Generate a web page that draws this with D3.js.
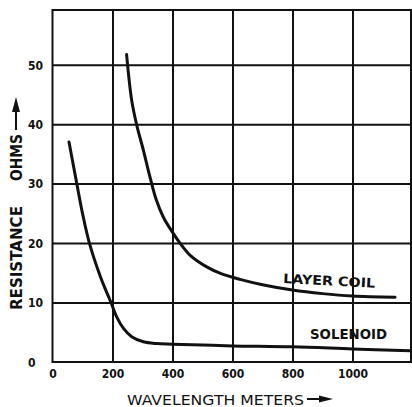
<!DOCTYPE html>
<html>
<head>
<meta charset="utf-8">
<script src="https://cdn.jsdelivr.net/npm/d3@7/dist/d3.min.js"></script>
<style>
  html, body { margin: 0; padding: 0; background: #fff; }
  svg { display: block; }
</style>
</head>
<body>
<svg id="chart" width="412" height="407"></svg>
<script>
// ---- data ----
const xTicks = [0, 200, 400, 600, 800, 1000];
const yTicks = [0, 10, 20, 30, 40, 50];

const solenoidX = [55, 81, 100, 123, 160, 180, 195, 214, 236, 264, 303, 347, 400, 500, 600, 800, 1000, 1192];
const solenoidY = [37, 30, 25, 20, 14.3, 11.8, 10, 7.6, 5.7, 4.25, 3.4, 3.1, 3.0, 2.85, 2.7, 2.55, 2.2, 1.9];

const layerX = [247, 264, 281, 303, 325, 345, 370, 403, 425, 460, 514, 560, 625, 700, 800, 900, 1000, 1142];
const layerY = [51.7, 44, 39.8, 35.6, 31.1, 27.4, 24.3, 21.6, 20, 17.9, 16, 14.9, 13.9, 13, 12.1, 11.5, 11.1, 10.9];

const seriesLabels = ["LAYER COIL", "SOLENOID"];
const xTitle = "WAVELENGTH METERS";
const yTitleWords = ["RESISTANCE", "OHMS"];

// ---- layout ----
const svg = d3.select("#chart");
const mLeft = 52.5, mRight = 411, mTop = 10, mBottom = 362;

const x = d3.scaleLinear().domain([0, 1195]).range([mLeft, mRight]);
const y = d3.scaleLinear().domain([0, 59.2]).range([mBottom, mTop]);

const ink = "#111";
const numFont = "'DejaVu Sans Condensed', 'DejaVu Sans', sans-serif";

// grid: vertical lines
const gx = svg.append("g")
  .attr("transform", `translate(0,${mBottom})`)
  .call(d3.axisBottom(x).tickValues(xTicks.filter(d => d > 0)).tickSize(-(mBottom - mTop)).tickFormat(""));
gx.select(".domain").remove();
gx.selectAll("line").attr("stroke", ink).attr("stroke-width", 2);

// grid: horizontal lines
const gy = svg.append("g")
  .attr("transform", `translate(${mLeft},0)`)
  .call(d3.axisLeft(y).tickValues(yTicks.filter(d => d > 0)).tickSize(-(mRight - mLeft)).tickFormat(""));
gy.select(".domain").remove();
gy.selectAll("line").attr("stroke", ink).attr("stroke-width", 2);

// frame
svg.append("rect")
  .attr("x", mLeft).attr("y", mTop)
  .attr("width", mRight - mLeft).attr("height", mBottom - mTop)
  .attr("fill", "none").attr("stroke", ink).attr("stroke-width", 2);

// x tick labels
const ax = svg.append("g")
  .attr("transform", `translate(0,${mBottom})`)
  .call(d3.axisBottom(x).tickValues(xTicks).tickSize(0).tickFormat(d3.format("d")));
ax.select(".domain").remove();
ax.selectAll("text")
  .attr("y", 16).attr("dy", 0)
  .attr("font-family", numFont).attr("font-weight", "bold")
  .attr("font-size", 12).attr("fill", ink);

// y tick labels (left aligned)
const ay = svg.append("g")
  .attr("transform", `translate(${mLeft},0)`)
  .call(d3.axisLeft(y).tickValues(yTicks).tickSize(0).tickFormat(d3.format("d")));
ay.select(".domain").remove();
ay.selectAll("text")
  .attr("x", -24.5).attr("dy", "0.36em")
  .attr("text-anchor", "start")
  .attr("font-family", numFont).attr("font-weight", "bold")
  .attr("font-size", 12).attr("fill", ink);

// curves
const line = d3.line().x(d => x(d[0])).y(d => y(d[1])).curve(d3.curveCatmullRom.alpha(0.5));
const solenoid = solenoidX.map((v, i) => [v, solenoidY[i]]);
const layer = layerX.map((v, i) => [v, layerY[i]]);

[solenoid, layer].forEach(data => {
  svg.append("path")
    .datum(data)
    .attr("d", line)
    .attr("fill", "none")
    .attr("stroke", ink)
    .attr("stroke-width", 3)
    .attr("stroke-linecap", "round")
    .attr("stroke-linejoin", "round");
});

// curve labels
svg.append("text")
  .attr("transform", "translate(283,283) rotate(3)")
  .attr("font-family", "'DejaVu Sans', sans-serif").attr("font-weight", "bold")
  .attr("font-size", 13).attr("fill", ink)
  .attr("textLength", 92).attr("lengthAdjust", "spacingAndGlyphs")
  .text(seriesLabels[0]);

svg.append("text")
  .attr("x", 310).attr("y", 339)
  .attr("font-family", "'DejaVu Sans', sans-serif").attr("font-weight", "bold")
  .attr("font-size", 14).attr("fill", ink)
  .attr("textLength", 77).attr("lengthAdjust", "spacingAndGlyphs")
  .text(seriesLabels[1]);

// x axis title + arrow
svg.append("text")
  .attr("x", 127).attr("y", 405)
  .attr("font-family", "'DejaVu Sans', sans-serif")
  .attr("font-size", 14).attr("fill", ink)
  .attr("textLength", 177).attr("lengthAdjust", "spacingAndGlyphs")
  .text(xTitle);
svg.append("line")
  .attr("x1", 307).attr("x2", 322).attr("y1", 399).attr("y2", 399)
  .attr("stroke", ink).attr("stroke-width", 2);
svg.append("path")
  .attr("d", "M319,395.5 L333,399 L319,402.5 Z")
  .attr("fill", ink);

// y axis title (two words) + arrow
svg.append("text")
  .attr("transform", "translate(22,310) rotate(-90)")
  .attr("font-family", "'DejaVu Sans', sans-serif").attr("font-weight", "bold")
  .attr("font-size", 15).attr("fill", ink)
  .attr("textLength", 104).attr("lengthAdjust", "spacingAndGlyphs")
  .text(yTitleWords[0]);
svg.append("text")
  .attr("transform", "translate(22,181) rotate(-90)")
  .attr("font-family", "'DejaVu Sans', sans-serif").attr("font-weight", "bold")
  .attr("font-size", 15).attr("fill", ink)
  .attr("textLength", 47).attr("lengthAdjust", "spacingAndGlyphs")
  .text(yTitleWords[1]);
svg.append("line")
  .attr("x1", 16).attr("x2", 16).attr("y1", 130).attr("y2", 108)
  .attr("stroke", ink).attr("stroke-width", 2);
svg.append("path")
  .attr("d", "M12,112 L16,97 L20,112 Z")
  .attr("fill", ink);
</script>
</body>
</html>
